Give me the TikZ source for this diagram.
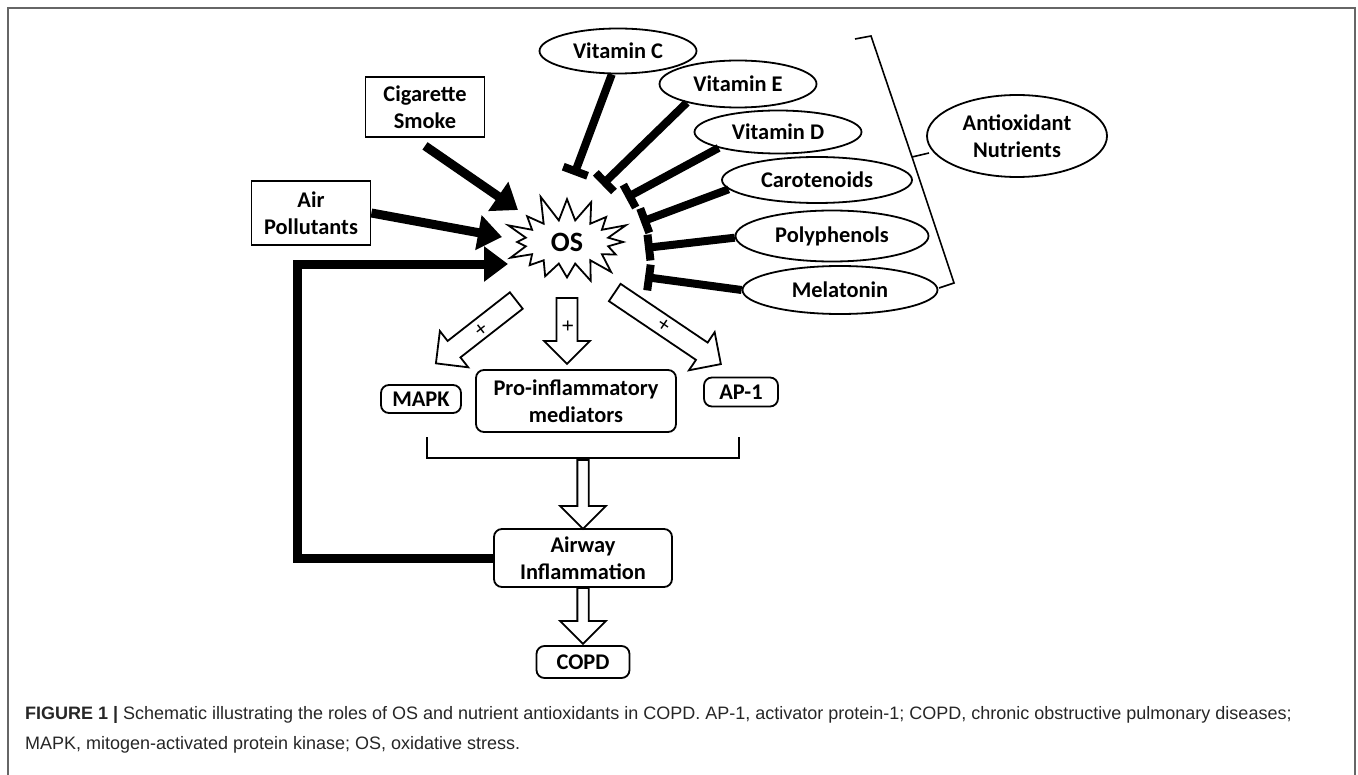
\documentclass[tikz,border=0pt]{standalone}
\usepackage{fontspec}
\setmainfont{Carlito}
\newfontfamily\capfont{Liberation Sans}
\usetikzlibrary{shapes.geometric,shapes.symbols,shapes.arrows,arrows.meta}

\tikzset{
  box/.style={draw, line width=0.9pt, align=center, inner sep=0pt},
  rbox/.style={box, rounded corners=4pt},
  oval/.style={draw, ellipse, line width=0.9pt, align=center, inner sep=0pt},
  push/.style={line width=4.5pt, -{Triangle[length=12pt, width=17pt]}},
  inhib/.style={line width=4pt, -{Bar[width=13pt]}},
  hollow/.style={draw, single arrow, line width=0.9pt, single arrow head extend=6pt,
    inner sep=1.5pt, minimum width=23pt, anchor=tail,
    font=\fontsize{11}{11}\selectfont}
}

\begin{document}
\begin{tikzpicture}[x=0.5pt, y=-0.5pt, font=\bfseries\fontsize{11.2}{13.5}\selectfont]
\useasboundingbox (0,0) rectangle (1358,775);
\draw[black!60, line width=1pt] (8,780) -- (8,8) -- (1355,8) -- (1355,780);

\node[box, minimum width=59.5pt, minimum height=30pt] (cig) at (425,107) {Cigarette\\Smoke};
\node[box, minimum width=59.5pt, minimum height=32pt] (air) at (311,213) {Air\\Pollutants};
\node[draw, starburst, starburst points=16, starburst point height=14pt, random starburst=11,
  minimum width=70pt, minimum height=50pt, inner sep=0pt, line width=0.9pt,
  font=\bfseries\fontsize{14}{16}\selectfont] (os) at (567,242) {OS};

\node[oval, minimum width=78.5pt, minimum height=22.5pt] (vitc) at (618,51) {Vitamin C};
\node[oval, minimum width=78.5pt, minimum height=23.5pt] (vite) at (738,84) {Vitamin E};
\node[oval, minimum width=83.5pt, minimum height=21.5pt] (vitd) at (778,132) {Vitamin D};
\node[oval, minimum width=95pt, minimum height=23pt] (carot) at (817,180) {Carotenoids};
\node[oval, minimum width=96.5pt, minimum height=25.5pt] (poly) at (832,236) {Polyphenols};
\node[oval, minimum width=97.5pt, minimum height=24pt] (mela) at (840,290) {Melatonin};
\node[oval, minimum width=90pt, minimum height=41pt] (anti) at (1017,136) {Antioxidant\\Nutrients};

\coordinate (tc) at (574,175);
\coordinate (te) at (602,185);
\coordinate (td) at (626,198);
\coordinate (tk) at (641,222);
\coordinate (tp) at (645,248);
\coordinate (tm) at (645,277);
\draw[inhib] (vitc.255) -- (tc);
\draw[inhib] (vite.200) -- (te);
\draw[inhib] (vitd.195) -- (td);
\draw[inhib] (carot.186) -- (tk);
\draw[inhib] (poly.181) -- (tp);
\draw[inhib] (mela.180) -- (tm);

\draw[line width=0.8pt] (855,39) -- (871,36) -- (912,157) -- (929,153)
  (912,157) -- (954,283) -- (939,288);

\coordinate (cigtip) at (518,210);
\coordinate (airtip) at (502,237);
\coordinate (fb) at (297,264);
\coordinate (fbtip) at (508,264);
\draw[push] ([yshift=-4pt]cig.south) -- (cigtip);
\draw[push] (air.east) -- (airtip);

\node[rbox, minimum width=40pt, minimum height=14pt] (mapk) at (421,399) {MAPK};
\node[rbox, minimum width=100pt, minimum height=31pt] (pro) at (576,401) {Pro-inflammatory\\mediators};
\node[rbox, minimum width=37pt, minimum height=14.5pt] (ap) at (741,392) {AP-1};
\node[rbox, minimum width=89pt, minimum height=29pt] (airway) at (583,558) {Airway\\Inflammation};
\node[rbox, minimum width=46.5pt, minimum height=16pt] (copd) at (583,662) {COPD};

\draw[push, line join=miter] (airway.west) -| (fb) -- (fbtip);

\node[hollow, rotate=218, minimum height=51pt] (h1) at (517,300) {+};
\node[hollow, rotate=-90, minimum height=33pt] (h2) at (567,297) {+};
\node[hollow, rotate=-34, minimum height=64pt] (h3) at (614,292) {+};

\draw[line width=0.8pt] (427,437) -- (427,458) -- (739,458) -- (739,437);

\node[hollow, rotate=-90, minimum height=34.5pt] (h4) at (583,459) {};
\node[hollow, rotate=-90, minimum height=28pt] (h5) at (583,587) {};

\node[anchor=base west, font=\capfont\fontsize{9}{11}\selectfont, text=black!85] (cap1) at (18,719)
  {\textbf{FIGURE 1 |} Schematic illustrating the roles of OS and nutrient antioxidants in COPD. AP-1, activator protein-1; COPD, chronic obstructive pulmonary diseases;};
\node[anchor=base west, font=\capfont\fontsize{9}{11}\selectfont, text=black!85] (cap2) at (18,749)
  {MAPK, mitogen-activated protein kinase; OS, oxidative stress.};
\end{tikzpicture}
\end{document}
